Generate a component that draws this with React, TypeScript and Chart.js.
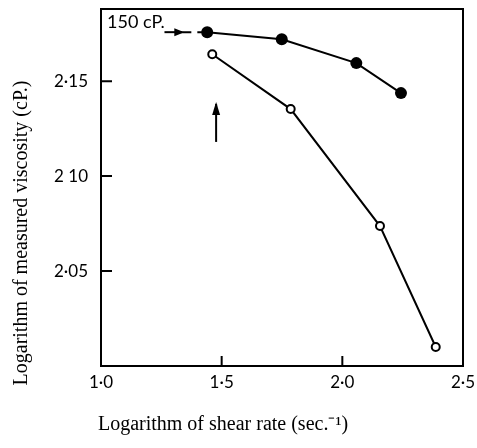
import React, { useEffect, useRef } from "react";
import { Chart, registerables } from "chart.js";

Chart.register(...registerables);

// ---- data ----
const shearRateClosed = [1.44, 1.749, 2.058, 2.243];
const viscosityClosed = [2.1758, 2.1721, 2.1595, 2.1437];
const shearRateOpen = [1.461, 1.786, 2.156, 2.387];
const viscosityOpen = [2.1642, 2.1353, 2.0737, 2.01];

const xTickValues = [1.0, 1.5, 2.0, 2.5];
const xTickLabels = ["1·0", "1·5", "2·0", "2·5"];
const yTickValues = [2.05, 2.1, 2.15];
const yTickLabels = ["2·05", "2 10", "2·15"];

const refLevel = 2.1758; // 150 cP level
const refArrowX = [1.263, 1.337];
const refDashX = [1.337, 1.44];
const upArrowX = 1.477;
const upArrowY = [2.118, 2.138];
const refLabel = "150 cP.";

const xTitle = "Logarithm of shear rate (sec.⁻¹)";
const yTitle = "Logarithm of measured viscosity (cP.)";

const X_MIN = 1.0;
const X_MAX = 2.5;
const Y_MIN = 2.0;
const Y_MAX = 2.188;

const tickFont = { family: "Lato", size: 17 };

const decorPlugin = {
  id: "decor",
  afterDatasetsDraw(chart: any) {
    const { ctx, chartArea, scales } = chart;
    const xs = scales.x;
    const ys = scales.y;
    ctx.save();
    ctx.strokeStyle = "#000";
    ctx.fillStyle = "#000";
    // frame
    ctx.lineWidth = 2;
    ctx.strokeRect(chartArea.left, chartArea.top, chartArea.right - chartArea.left, chartArea.bottom - chartArea.top);
    // inward ticks
    ctx.beginPath();
    yTickValues.forEach((v) => {
      const py = ys.getPixelForValue(v);
      ctx.moveTo(chartArea.left, py);
      ctx.lineTo(chartArea.left + 11, py);
    });
    xTickValues.forEach((v) => {
      if (v <= X_MIN || v >= X_MAX) return;
      const px = xs.getPixelForValue(v);
      ctx.moveTo(px, chartArea.bottom);
      ctx.lineTo(px, chartArea.bottom - 10);
    });
    ctx.stroke();

    // right-pointing arrowhead on the 150 cP line
    const ax = xs.getPixelForValue(refArrowX[1]);
    const ay = ys.getPixelForValue(refLevel);
    ctx.beginPath();
    ctx.moveTo(ax + 2, ay);
    ctx.lineTo(ax - 8, ay - 4);
    ctx.lineTo(ax - 8, ay + 4);
    ctx.closePath();
    ctx.fill();

    // upward arrowhead
    const ux = xs.getPixelForValue(upArrowX);
    const uy = ys.getPixelForValue(upArrowY[1]);
    ctx.beginPath();
    ctx.moveTo(ux, uy - 2);
    ctx.lineTo(ux - 4, uy + 11);
    ctx.lineTo(ux + 4, uy + 11);
    ctx.closePath();
    ctx.fill();

    // label 150 cP.
    ctx.font = '18px Lato';
    ctx.textAlign = "left";
    ctx.textBaseline = "alphabetic";
    ctx.fillText(refLabel, chartArea.left + 6, chartArea.top + 19);

    // axis titles
    ctx.font = '20px "Liberation Serif"';
    ctx.textAlign = "center";
    ctx.textBaseline = "middle";
    ctx.fillText(xTitle, chartArea.left + 122, chartArea.bottom + 59);
    ctx.translate(22, chartArea.top + 224);
    ctx.rotate(-Math.PI / 2);
    ctx.fillText(yTitle, 0, 0);
    ctx.restore();
  },
};

export default function App() {
  const ref = useRef<HTMLCanvasElement>(null);

  useEffect(() => {
    document.body.style.margin = "0";
    const canvas = ref.current;
    if (!canvas) return;
    const chart = new Chart(canvas, {
      type: "scatter",
      data: {
        datasets: [
          {
            data: shearRateClosed.map((x, i) => ({ x, y: viscosityClosed[i] })),
            showLine: true,
            borderColor: "#000",
            borderWidth: 2,
            pointRadius: 6,
            pointBackgroundColor: "#000",
            pointBorderColor: "#000",
            pointBorderWidth: 0,
          },
          {
            data: shearRateOpen.map((x, i) => ({ x, y: viscosityOpen[i] })),
            showLine: true,
            borderColor: "#000",
            borderWidth: 2,
            pointRadius: 4,
            pointBackgroundColor: "#fff",
            pointBorderColor: "#000",
            pointBorderWidth: 2,
          },
          {
            data: refDashX.map((x) => ({ x, y: refLevel })),
            showLine: true,
            borderColor: "#000",
            borderWidth: 2,
            borderDash: [9, 6],
            pointRadius: 0,
          },
          {
            data: refArrowX.map((x) => ({ x, y: refLevel })),
            showLine: true,
            borderColor: "#000",
            borderWidth: 2,
            pointRadius: 0,
          },
          {
            data: upArrowY.map((y) => ({ x: upArrowX, y })),
            showLine: true,
            borderColor: "#000",
            borderWidth: 2,
            pointRadius: 0,
          },
        ],
      },
      options: {
        responsive: false,
        animation: false,
        layout: { padding: { top: 9, right: 14, left: 0, bottom: 0 } },
        plugins: {
          legend: { display: false },
          tooltip: { enabled: false },
        },
        scales: {
          x: {
            type: "linear",
            min: X_MIN,
            max: X_MAX,
            afterBuildTicks: (s: any) => {
              s.ticks = xTickValues.map((value) => ({ value }));
            },
            afterFit: (s: any) => {
              s.height = 82;
              s.paddingLeft = 0;
              s.paddingRight = 0;
            },
            ticks: {
              font: tickFont,
              color: "#000",
              padding: 6,
              maxRotation: 0,
              callback: (v: any) => {
                const i = xTickValues.findIndex((t) => Math.abs(t - v) < 1e-6);
                return i >= 0 ? xTickLabels[i] : "";
              },
            },
            grid: { display: false, drawTicks: false },
            border: { display: false },
          },
          y: {
            type: "linear",
            min: Y_MIN,
            max: Y_MAX,
            afterBuildTicks: (s: any) => {
              s.ticks = yTickValues.map((value) => ({ value }));
            },
            afterFit: (s: any) => {
              s.width = 101;
              s.paddingTop = 0;
              s.paddingBottom = 0;
            },
            ticks: {
              font: tickFont,
              color: "#000",
              padding: 13,
              callback: (v: any) => {
                const i = yTickValues.findIndex((t) => Math.abs(t - v) < 1e-6);
                return i >= 0 ? yTickLabels[i] : "";
              },
            },
            grid: { display: false, drawTicks: false },
            border: { display: false },
          },
        },
      },
      plugins: [decorPlugin],
    });
    return () => chart.destroy();
  }, []);

  return (
    <div style={{ width: 477, height: 448, background: "#fff" }}>
      <canvas ref={ref} width={477} height={448} />
    </div>
  );
}
